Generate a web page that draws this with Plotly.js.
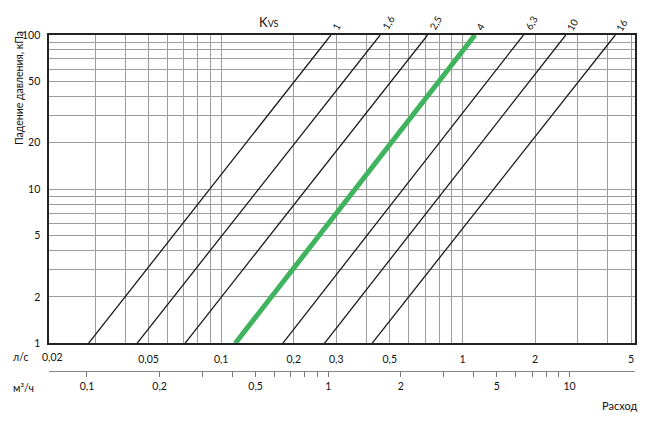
<!DOCTYPE html>
<html>
<head>
<meta charset="utf-8">
<script src="https://cdn.plot.ly/plotly-3.0.1.min.js"></script>
<style>html,body{margin:0;padding:0;background:#fff;}#chart{width:665px;height:433px;}</style>
</head>
<body>
<div id="chart"></div>
<script>
// Kvs valve lines: flow (l/s) read at 1 kPa and 100 kPa
const kvsLabels = ['1', '1,6', '2,5', '4', '6,3', '10', '16'];
const flowAt1kPa = [0.0282, 0.0448, 0.0708, 0.1144, 0.18, 0.268, 0.422];
const flowAt100kPa = [0.285, 0.456, 0.717, 1.127, 1.79, 2.68, 4.3];
const pressureEnds = [1, 100];
const highlighted = '4';

// axis ticks
const lsGridVals = [0.03,0.04,0.05,0.06,0.07,0.08,0.09,0.1,0.2,0.3,0.4,0.5,0.6,0.7,0.8,0.9,1,2,3,4,5];
const lsLabelVals = [0.02, 0.05, 0.1, 0.2, 0.3, 0.5, 1, 2, 5];
const lsLabelText = ['0,02', '0,05', '0,1', '0,2', '0,3', '0,5', '1', '2', '5'];
const m3hTickVals = [0.1,0.2,0.3,0.4,0.5,0.6,0.7,0.8,0.9,1,2,3,4,5,6,7,8,9,10];
const m3hLabelVals = [0.1, 0.2, 0.5, 1, 2, 5, 10];
const m3hLabelText = ['0,1', '0,2', '0,5', '1', '2', '5', '10'];
const kpaTickVals = [1,2,3,4,5,6,7,8,9,10,20,30,40,50,60,70,80,90,100];
const kpaLabelVals = [1, 2, 5, 10, 20, 50, 100];
const kpaLabelText = ['1', '2', '5', '10', '20', '50', '100'];
const LS_TO_M3H = 3.6;
const xExtent = [0.01934, 5.19];

const FONT = 'Lato, "Open Sans", "DejaVu Sans", sans-serif';
const xRange = xExtent.map(v => Math.log10(v));
const x2Range = xRange.map(v => v + Math.log10(LS_TO_M3H));

function textFor(vals, labVals, labText) {
  return vals.map(v => {
    const i = labVals.indexOf(v);
    return i >= 0 ? labText[i] : '';
  });
}

const traces = [];
kvsLabels.forEach((k, i) => {
  const hl = k === highlighted;
  if (hl) return;
  traces.push({
    x: [flowAt1kPa[i], flowAt100kPa[i]], y: pressureEnds,
    xaxis: 'x', yaxis: 'y',
    mode: 'lines', type: 'scatter',
    line: {color: '#1a1a1a', width: 1.3},
    hoverinfo: 'skip', showlegend: false
  });
});
// highlighted line drawn in m³/h on the second flow axis (same scale)
kvsLabels.forEach((k, i) => {
  if (k !== highlighted) return;
  traces.push({
    x: [flowAt1kPa[i] * LS_TO_M3H, flowAt100kPa[i] * LS_TO_M3H], y: pressureEnds,
    xaxis: 'x2', yaxis: 'y',
    mode: 'lines', type: 'scatter',
    line: {color: '#3fb35d', width: 5},
    hoverinfo: 'skip', showlegend: false
  });
});

const annotations = [];
kvsLabels.forEach((k, i) => {
  const n = k.length;
  annotations.push({
    x: Math.log10(flowAt100kPa[i]), y: Math.log10(pressureEnds[1]),
    xref: 'x', yref: 'y',
    text: k, showarrow: false, textangle: -60,
    xanchor: 'center', yanchor: 'middle',
    xshift: 3.5 + 1.3 * n, yshift: 6.5 + 2 * n,
    font: {family: FONT, size: 10, color: '#111'}
  });
});
// first l/s label sits left of the first grid line
annotations.push({
  x: Math.log10(lsLabelVals[0]), xref: 'x', yref: 'paper', y: 0.0824,
  yshift: -14, xanchor: 'center', yanchor: 'middle', showarrow: false,
  text: lsLabelText[0], font: {family: FONT, size: 10.5, color: '#111'}
});
annotations.push({
  xref: 'paper', yref: 'paper', x: 0, y: 1, xshift: 220, yshift: 13,
  xanchor: 'center', yanchor: 'middle', showarrow: false,
  text: 'K<span style="font-size:9px">VS</span>',
  font: {family: FONT, size: 13, color: '#111'}
});
annotations.push({
  xref: 'paper', yref: 'paper', x: 0, y: 1, xshift: -30, yshift: 6,
  xanchor: 'center', yanchor: 'top', showarrow: false, textangle: -90,
  text: 'Падение давления, кПа',
  font: {family: FONT, size: 10.5, color: '#111'}
});
annotations.push({
  xref: 'paper', yref: 'paper', x: 0, y: 0, xshift: -38, yshift: 14,
  xanchor: 'left', yanchor: 'middle', showarrow: false,
  text: 'л/с', font: {family: FONT, size: 10.5, color: '#111'}
});
annotations.push({
  xref: 'paper', yref: 'paper', x: 0, y: 0, xshift: -38, yshift: -17,
  xanchor: 'left', yanchor: 'middle', showarrow: false,
  text: 'м³/ч', font: {family: FONT, size: 10.5, color: '#111'}
});
annotations.push({
  xref: 'paper', yref: 'paper', x: 1, y: 0, xshift: 4, yshift: -34,
  xanchor: 'right', yanchor: 'middle', showarrow: false,
  text: 'Расход', font: {family: FONT, size: 11, color: '#111'}
});

const layout = {
  width: 665, height: 433,
  margin: {l: 49, r: 30, t: 35, b: 62, pad: 0},
  paper_bgcolor: '#fff', plot_bgcolor: '#fff',
  font: {family: FONT, size: 10.5, color: '#111'},
  showlegend: false,
  xaxis: {
    type: 'log', range: xRange, anchor: 'y',
    tickmode: 'array', tickvals: lsGridVals,
    ticktext: textFor(lsGridVals, lsLabelVals, lsLabelText),
    showgrid: true, gridcolor: '#9c9c9c', gridwidth: 1,
    ticks: '', ticklabelstandoff: 5,
    showline: true, linecolor: '#222', linewidth: 1.6, mirror: true,
    zeroline: false, fixedrange: true
  },
  xaxis2: {
    type: 'log', range: x2Range, overlaying: 'x', anchor: 'free', position: 0, side: 'bottom',
    tickmode: 'array', tickvals: m3hTickVals,
    ticktext: textFor(m3hTickVals, m3hLabelVals, m3hLabelText),
    showgrid: false, ticks: 'outside', ticklen: 5, tickcolor: '#777', tickwidth: 1,
    showline: true, linecolor: '#888', linewidth: 1,
    zeroline: false, fixedrange: true
  },
  yaxis: {
    type: 'log', range: [0, 2], domain: [0.0824, 1],
    tickmode: 'array', tickvals: kpaTickVals,
    ticktext: textFor(kpaTickVals, kpaLabelVals, kpaLabelText),
    showgrid: true, gridcolor: '#9c9c9c', gridwidth: 1,
    ticks: '', ticklabelstandoff: 5,
    showline: true, linecolor: '#222', linewidth: 1.6, mirror: true,
    zeroline: false, fixedrange: true
  },
  annotations: annotations
};

Plotly.newPlot('chart', traces, layout, {staticPlot: true, displayModeBar: false});
</script>
</body>
</html>
